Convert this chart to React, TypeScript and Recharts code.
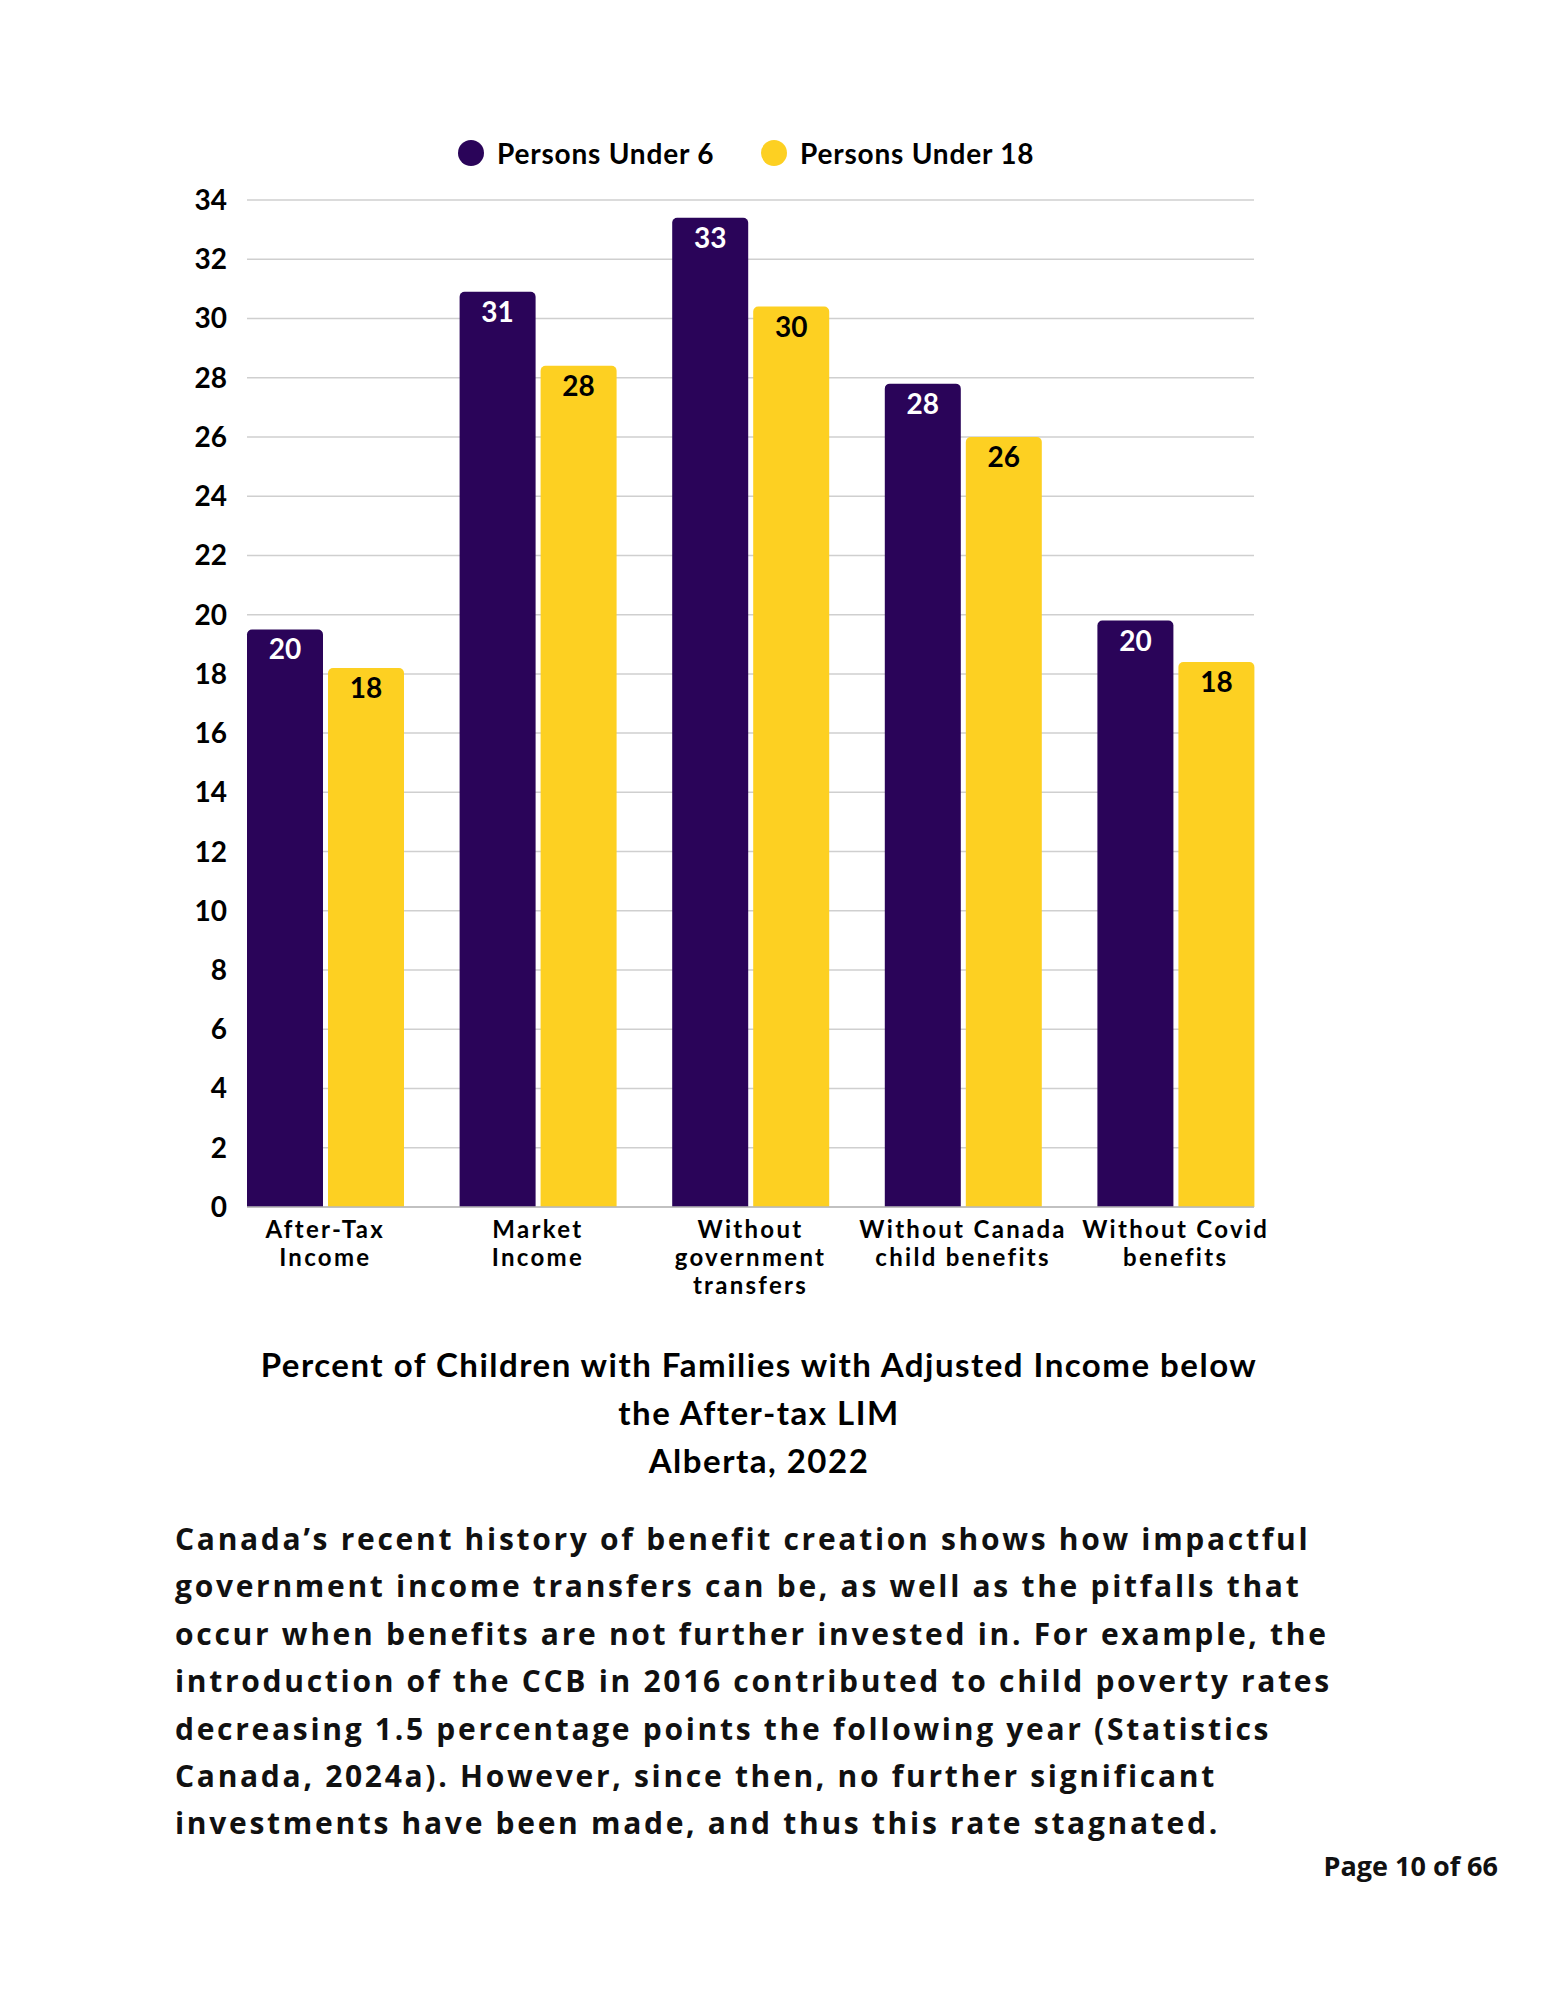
import { Bar, BarChart, CartesianGrid, LabelList, Legend, XAxis, YAxis } from "recharts"

const categories = [
  "After-Tax Income",
  "Market Income",
  "Without government transfers",
  "Without Canada child benefits",
  "Without Covid benefits",
]
const categoryLines = [
  ["After-Tax", "Income"],
  ["Market", "Income"],
  ["Without", "government", "transfers"],
  ["Without Canada", "child benefits"],
  ["Without Covid", "benefits"],
]
const personsUnder6 = [19.5, 30.9, 33.4, 27.8, 19.8]
const personsUnder18 = [18.2, 28.4, 30.4, 26.0, 18.4]
const yTicks = [0, 2, 4, 6, 8, 10, 12, 14, 16, 18, 20, 22, 24, 26, 28, 30, 32, 34]

const titleLines = [
  "Percent of Children with Families with Adjusted Income below",
  "the After-tax LIM",
  "Alberta, 2022",
]
const paragraphLines = [
  "Canada’s recent history of benefit creation shows how impactful",
  "government income transfers can be, as well as the pitfalls that",
  "occur when benefits are not further invested in. For example, the",
  "introduction of the CCB in 2016 contributed to child poverty rates",
  "decreasing 1.5 percentage points the following year (Statistics",
  "Canada, 2024a). However, since then, no further significant",
  "investments have been made, and thus this rate stagnated.",
]

const PURPLE = "#2a0459"
const YELLOW = "#fdd022"
const FONT = "Lato, 'Open Sans', sans-serif"
const TEXT_FONT = "'Open Sans', Lato, sans-serif"

const data = categories.map((category, i) => ({
  category,
  under6: personsUnder6[i],
  under18: personsUnder18[i],
}))

function CategoryTick(props: any) {
  const { x, y, payload } = props
  const lines = categoryLines[payload.index] ?? [payload.value]
  return (
    <text
      x={x}
      y={y}
      textAnchor="middle"
      fill="#000"
      fontSize={24}
      fontWeight={700}
      fontFamily={FONT}
      letterSpacing={2.3}
    >
      {lines.map((line: string, i: number) => (
        <tspan key={i} x={x} dy={i === 0 ? 31 : 28}>
          {line}
        </tspan>
      ))}
    </text>
  )
}

function makeValueLabel(color: string) {
  return (props: any) => {
    const { x, y, width, value } = props
    return (
      <text
        x={x + width / 2}
        y={y + 30}
        textAnchor="middle"
        fill={color}
        fontSize={28}
        fontWeight={700}
        fontFamily={FONT}
      >
        {Math.round(value)}
      </text>
    )
  }
}

function renderLegend() {
  const items = [
    { name: "Persons Under 6", color: PURPLE, width: 303 },
    { name: "Persons Under 18", color: YELLOW, width: 300 },
  ]
  return (
    <div style={{ display: "flex", alignItems: "center", fontFamily: FONT }}>
      {items.map((item) => (
        <div
          key={item.name}
          style={{ display: "flex", alignItems: "center", width: item.width }}
        >
          <span
            style={{
              width: 26,
              height: 26,
              borderRadius: 13,
              background: item.color,
              display: "inline-block",
              marginRight: 13,
              flexShrink: 0,
            }}
          />
          <span
            style={{
              fontSize: 28,
              fontWeight: 700,
              color: "#000",
              letterSpacing: 0.8,
              whiteSpace: "nowrap",
            }}
          >
            {item.name}
          </span>
        </div>
      ))}
    </div>
  )
}

export default function App() {
  return (
    <div
      style={{
        position: "absolute",
        left: 0,
        top: 0,
        width: 1545,
        height: 2000,
        background: "#fff",
        fontFamily: FONT,
      }}
    >
      <BarChart
        width={1545}
        height={1400}
        data={data}
        margin={{ top: 200, right: 291, bottom: 43, left: 150 }}
        barCategoryGap={28}
        barGap={5}
      >
        <CartesianGrid vertical={false} stroke="#cfcfcf" strokeWidth={1.5} />
        <XAxis
          dataKey="category"
          height={150}
          interval={0}
          tick={<CategoryTick />}
          tickLine={false}
          tickSize={0}
          tickMargin={0}
          axisLine={{ stroke: "#b8b8b8", strokeWidth: 1.5 }}
          padding={{ left: -28, right: -28 }}
        />
        <YAxis
          width={97}
          domain={[0, 34]}
          ticks={yTicks}
          interval={0}
          tickLine={false}
          axisLine={false}
          tickSize={0}
          tickMargin={20}
          tick={{ fill: "#000", fontSize: 28, fontWeight: 700, fontFamily: FONT }}
        />
        <Legend
          layout="horizontal"
          verticalAlign="middle"
          align="center"
          content={renderLegend}
          wrapperStyle={{ top: 136, left: 458, width: 700, height: 32 }}
        />
        <Bar
          dataKey="under6"
          name="Persons Under 6"
          fill={PURPLE}
          radius={[5, 5, 0, 0]}
          isAnimationActive={false}
        >
          <LabelList dataKey="under6" content={makeValueLabel("#fff")} />
        </Bar>
        <Bar
          dataKey="under18"
          name="Persons Under 18"
          fill={YELLOW}
          radius={[5, 5, 0, 0]}
          isAnimationActive={false}
        >
          <LabelList dataKey="under18" content={makeValueLabel("#000")} />
        </Bar>
      </BarChart>

      <div
        style={{
          position: "absolute",
          top: 1340,
          left: 259,
          width: 1000,
          textAlign: "center",
          fontFamily: FONT,
          fontSize: 33,
          fontWeight: 700,
          letterSpacing: 1.5,
          lineHeight: "48px",
          color: "#000",
        }}
      >
        {titleLines.map((line) => (
          <div key={line} style={{ whiteSpace: "nowrap" }}>
            {line}
          </div>
        ))}
      </div>

      <div
        style={{
          position: "absolute",
          top: 1515,
          left: 175,
          fontFamily: TEXT_FONT,
          fontSize: 30,
          fontWeight: 700,
          lineHeight: "47.4px",
          letterSpacing: 2.7,
          color: "#111",
        }}
      >
        {paragraphLines.map((line) => (
          <div key={line} style={{ whiteSpace: "nowrap" }}>
            {line}
          </div>
        ))}
      </div>

      <div
        style={{
          position: "absolute",
          top: 1847,
          right: 47,
          fontFamily: TEXT_FONT,
          fontSize: 27,
          fontWeight: 700,
          color: "#111",
          whiteSpace: "nowrap",
        }}
      >
        Page 10 of 66
      </div>
    </div>
  )
}
